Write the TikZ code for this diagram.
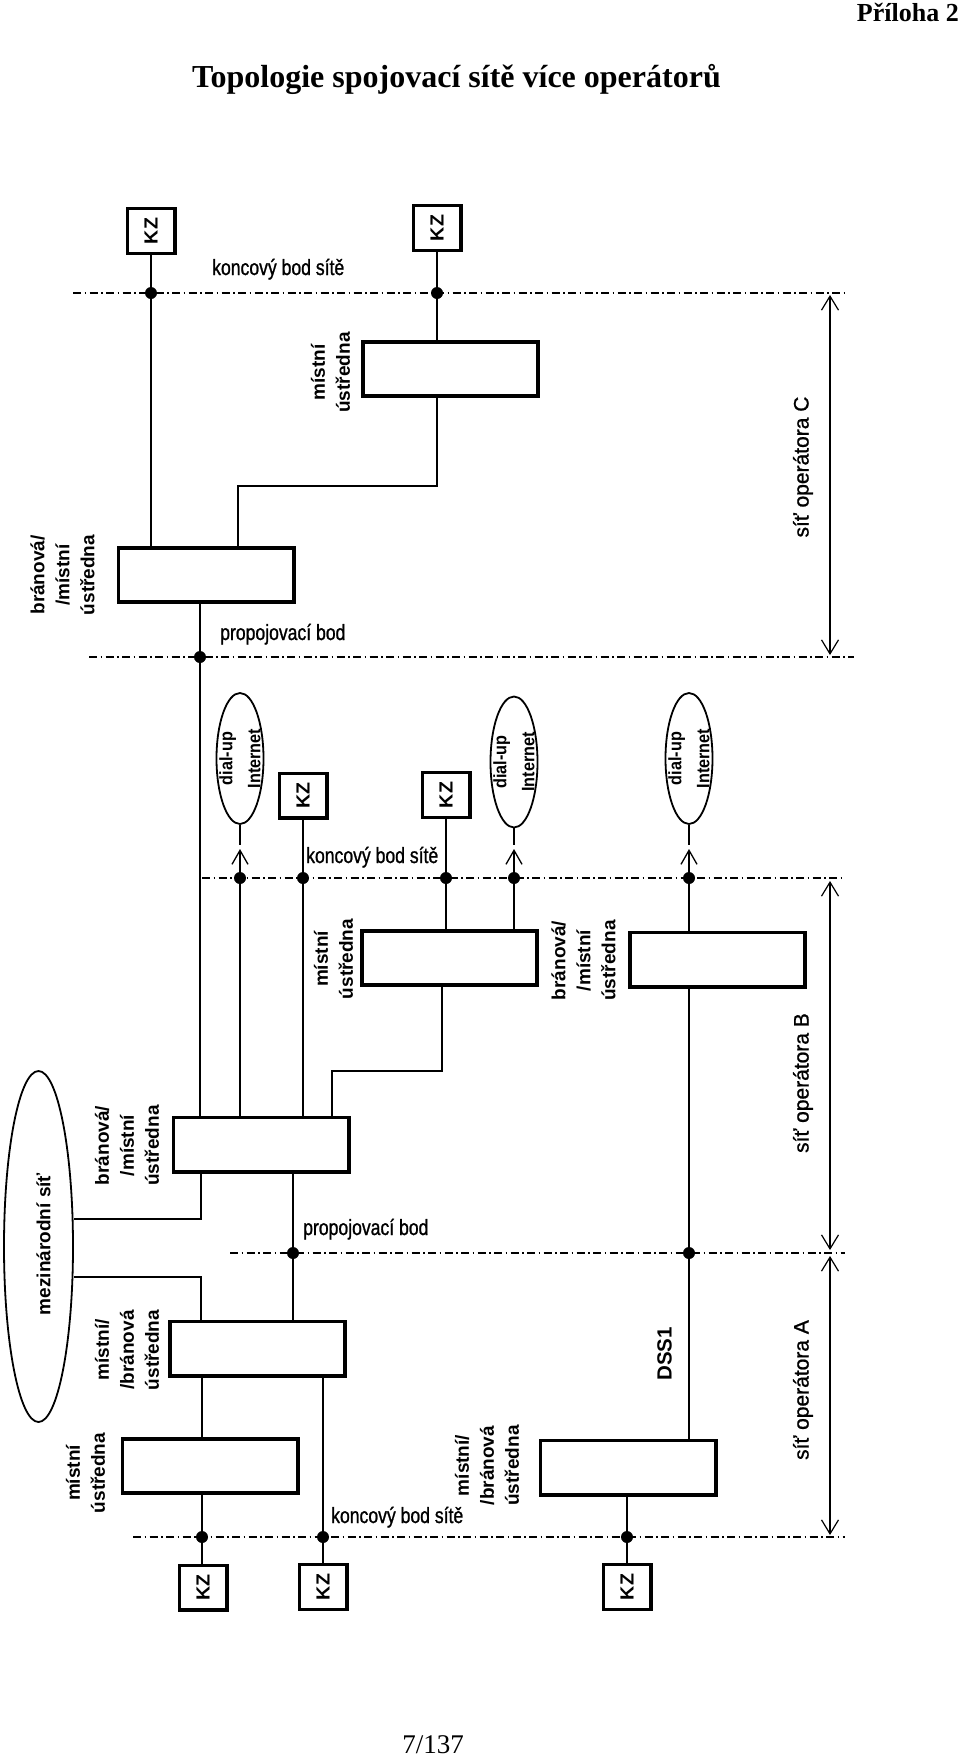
\documentclass[tikz,border=0pt]{standalone}
\usepackage{fontspec}
\usepackage{graphicx}
\setmainfont{Liberation Serif}
\setsansfont{Liberation Sans}
\newfontfamily\narrowsans[FakeStretch=0.8, FakeBold=1]{Liberation Sans}
\newfontfamily\kzsans[FakeStretch=1.03]{Liberation Sans}
\newfontfamily\bubsans[FakeStretch=0.9]{Liberation Sans}
\newfontfamily\opsans[FakeBold=1]{Liberation Sans}
\usetikzlibrary{shapes.geometric,arrows.meta}

\begin{document}
\begin{tikzpicture}[x=1pt,y=-1pt,
  wire/.style={line width=1.3pt},
  boundary/.style={line width=1.2pt, dash pattern=on 8pt off 3.5pt on 1.5pt off 3.5pt},
  jdot/.style={circle, fill=black, minimum size=12pt, inner sep=0pt},
  exch/.style={draw, line width=3.6pt, minimum width=175.4pt, minimum height=54.4pt, inner sep=0pt},
  kzbox/.style={draw, line width=3.2pt, minimum width=47.8pt, minimum height=44.8pt, inner sep=0pt, font=\fontsize{19}{19}\selectfont\kzsans\bfseries},
  exlabel/.style={rotate=90, align=center, inner sep=0pt, font=\fontsize{19}{25}\selectfont\sffamily\bfseries},
  netlabel/.style={anchor=base west, inner sep=0pt, font=\fontsize{22}{24}\selectfont\narrowsans},
  bubble/.style={draw, ellipse, line width=1.8pt, inner sep=0pt, minimum width=47pt, minimum height=131pt},
  bubtext/.style={rotate=90, align=center, inner sep=0pt, font=\fontsize{18}{28}\selectfont\bubsans\bfseries},
  oplabel/.style={rotate=90, inner sep=0pt, font=\fontsize{21}{24}\selectfont\opsans},
  boldrot/.style={rotate=90, inner sep=0pt, font=\fontsize{19}{24}\selectfont\sffamily\bfseries},
  dimspan/.style={line width=1.2pt, {Straight Barb[length=14pt,width=17pt]}-{Straight Barb[length=14pt,width=17pt]}},
  upar/.style={line width=1.3pt, -{Straight Barb[length=14pt,width=16pt]}},
]
\fill[white] (0,0) rectangle (960,1756);
\useasboundingbox (0,0) rectangle (960,1756);

% headings
\node[anchor=base east, inner sep=0pt, font=\fontsize{26}{30}\selectfont\bfseries] (annex) at (959,21) {Příloha 2};
\node[anchor=base, inner sep=0pt, font=\fontsize{32}{36}\selectfont\bfseries] (title) at (456.5,87) {Topologie spojovací sítě více operátorů};
\node[anchor=base, inner sep=0pt, font=\fontsize{27}{30}\selectfont] (page) at (433,1753) {7/137};

% boundary lines
\coordinate (b1w) at (73,293);  \coordinate (b1e) at (848,293);
\coordinate (b2w) at (89,657);  \coordinate (b2e) at (854,657);
\coordinate (b3w) at (202,878); \coordinate (b3e) at (845,878);
\coordinate (b4w) at (230,1253); \coordinate (b4e) at (845,1253);
\coordinate (b5w) at (133,1537); \coordinate (b5e) at (845,1537);
\draw[boundary] (b1w) -- (b1e);
\draw[boundary] (b2w) -- (b2e);
\draw[boundary] (b3w) -- (b3e);
\draw[boundary] (b4w) -- (b4e);
\draw[boundary] (b5w) -- (b5e);

% ===== operator C =====
\node[kzbox] (kzC1) at (151,231) {\rotatebox{90}{KZ}};
\node[kzbox] (kzC2) at (437,228) {\rotatebox{90}{KZ}};
\node[jdot] (dC1) at (151,293) {};
\node[jdot] (dC2) at (437,293) {};
\node[exch] (locC) at (450.5,369) {};
\node[exlabel] (locCl) at (330.5,372.5) {místní\\ústředna};
\node[exch] (gwC) at (206,575) {};
\node[exlabel] (gwCl) at (62.5,575) {bránová/\\/místní\\ústředna};
\node[jdot] (pC) at (200,657) {};
\node[netlabel] (tC1) at (212,275) {koncový bod sítě};
\node[netlabel] (tC2) at (220,640) {propojovací bod};
\coordinate (cC1) at (437,486);
\coordinate (cC2) at (238,486);

% ===== operator B =====
\node[bubble] (ie1) at (240,758.5) {};
\node[bubtext] (ie1t) at (ie1.center) {dial-up\\Internet};
\node[bubble] (ie2) at (514,762) {};
\node[bubtext] (ie2t) at (ie2.center) {dial-up\\Internet};
\node[bubble] (ie3) at (689,758.5) {};
\node[bubtext] (ie3t) at (ie3.center) {dial-up\\Internet};
\node[kzbox] (kzB1) at (303,795.5) {\rotatebox{90}{KZ}};
\node[kzbox] (kzB2) at (446,795) {\rotatebox{90}{KZ}};
\node[jdot] (dB1) at (240,878) {};
\node[jdot] (dB2) at (303,878) {};
\node[jdot] (dB3) at (446,878) {};
\node[jdot] (dB4) at (514,878) {};
\node[jdot] (dB5) at (689,878) {};
\coordinate (aB1) at (240,849); \coordinate (eB1) at (240,845);
\coordinate (aB4) at (514,849); \coordinate (eB4) at (514,845);
\coordinate (aB5) at (689,849); \coordinate (eB5) at (689,845);
\node[exch] (locB) at (449.5,958) {};
\node[exlabel] (locBl) at (333.5,959) {místní\\ústředna};
\node[exch] (gwBr) at (717.5,959.5) {};
\node[exlabel] (gwBrl) at (583.5,960.5) {bránová/\\/místní\\ústředna};
\node[exch] (gwBl) at (261,1144.5) {};
\node[exlabel] (gwBll) at (127,1145.5) {bránová/\\/místní\\ústředna};
\node[netlabel] (tB1) at (306,863) {koncový bod sítě};
\node[netlabel] (tB2) at (303,1235) {propojovací bod};
\coordinate (cB1) at (442,1071);
\coordinate (cB2) at (332,1071);
\node[jdot] (pB1) at (293,1253) {};
\node[jdot] (pB2) at (689,1253) {};

% international network
\node[draw, ellipse, line width=1.8pt, minimum width=69pt, minimum height=351pt, inner sep=0pt] (intl) at (38.5,1246.5) {};
\node[boldrot] (intlt) at (43.5,1244) {mezinárodní síť};
\coordinate (cI1) at (201,1219);
\coordinate (cI2) at (201,1277);

% ===== operator A =====
\node[exch] (lgA) at (257.5,1348.5) {};
\node[exlabel] (lgAl) at (127,1350) {místní/\\/bránová\\ústředna};
\node[exch] (locA) at (210,1466) {};
\node[exlabel] (locAl) at (85.5,1473) {místní\\ústředna};
\node[exch] (lgAr) at (628,1467.5) {};
\node[exlabel] (lgArl) at (487,1465.5) {místní/\\/bránová\\ústředna};
\node[boldrot, font=\fontsize{20.5}{24}\selectfont\sffamily\bfseries] (dss) at (664.5,1354) {DSS1};
\node[jdot] (dA1) at (202,1537) {};
\node[jdot] (dA2) at (323,1537) {};
\node[jdot] (dA3) at (627,1537) {};
\node[kzbox] (kzA1) at (203,1587.5) {\rotatebox{90}{KZ}};
\node[kzbox] (kzA2) at (323,1587) {\rotatebox{90}{KZ}};
\node[kzbox] (kzA3) at (627,1587) {\rotatebox{90}{KZ}};
\node[netlabel] (tA1) at (331,1523) {koncový bod sítě};

% operator span labels and arrows
\node[oplabel] (opC) at (803,467) {síť operátora C};
\node[oplabel] (opB) at (803,1083) {síť operátora B};
\node[oplabel] (opA) at (803,1390) {síť operátora A};
\coordinate (mC1) at (830,295);  \coordinate (mC2) at (830,655);
\coordinate (mB1) at (830,881);  \coordinate (mB2) at (830,1250);
\coordinate (mA1) at (830,1256); \coordinate (mA2) at (830,1535);
\draw[dimspan] (mC1) -- (mC2);
\draw[dimspan] (mB1) -- (mB2);
\draw[dimspan] (mA1) -- (mA2);

% ===== connections =====
% C
\draw[wire] (kzC1) -- (dC1) -- (gwC.north -| dC1);
\draw[wire] (kzC2) -- (dC2) -- (locC.north -| dC2);
\draw[wire] (locC.south -| cC1) -- (cC1) -- (cC2) -- (gwC.north -| cC2);
\draw[wire] (gwC.south -| pC) -- (pC) -- (gwBl.north -| pC);
% B
\draw[upar] (dB1) -- (aB1);
\draw[wire] (ie1) -- (eB1);
\draw[upar] (dB4) -- (aB4);
\draw[wire] (ie2) -- (eB4);
\draw[upar] (dB5) -- (aB5);
\draw[wire] (ie3) -- (eB5);
\draw[wire] (dB1) -- (gwBl.north -| dB1);
\draw[wire] (kzB1) -- (dB2) -- (gwBl.north -| dB2);
\draw[wire] (kzB2) -- (dB3) -- (locB.north -| dB3);
\draw[wire] (dB4) -- (locB.north -| dB4);
\draw[wire] (dB5) -- (gwBr.north -| dB5);
\draw[wire] (locB.south -| cB1) -- (cB1) -- (cB2) -- (gwBl.north -| cB2);
\draw[wire] (gwBl.south -| cI1) -- (cI1) -- (intl.east |- cI1);
\draw[wire] (gwBl.south -| pB1) -- (pB1) -- (lgA.north -| pB1);
\draw[wire] (gwBr.south -| pB2) -- (pB2) -- (lgAr.north -| pB2);
% international to A
\draw[wire] (intl.east |- cI2) -- (cI2) -- (lgA.north -| cI2);
% A
\draw[wire] (lgA.south -| dA1) -- (locA.north -| dA1);
\draw[wire] (locA.south -| dA1) -- (dA1) -- (kzA1.north -| dA1);
\draw[wire] (lgA.south -| dA2) -- (dA2) -- (kzA2);
\draw[wire] (lgAr.south -| dA3) -- (dA3) -- (kzA3);
\end{tikzpicture}
\end{document}
